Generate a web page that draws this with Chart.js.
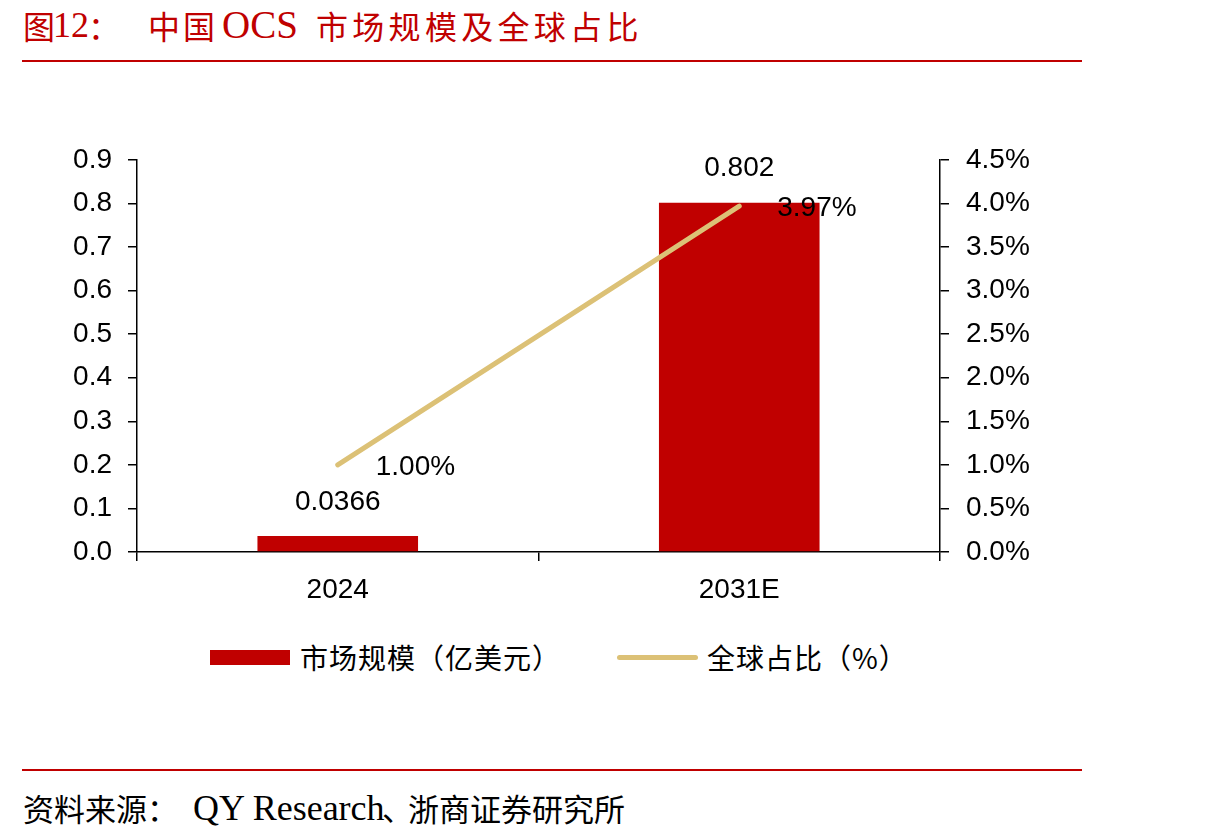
<!DOCTYPE html>
<html>
<head>
<meta charset="utf-8">
<script src="https://cdn.jsdelivr.net/npm/chart.js@4"></script>
<style>
  html, body { margin: 0; padding: 0; background: #fff; }
  body { width: 1210px; height: 838px; position: relative; overflow: hidden; }
  .t { position: absolute; top: 5px; height: 40px; line-height: 40px; color: #c00000; white-space: nowrap; }
  .cjk { font-family: "Noto Sans CJK SC", sans-serif; }
  .lat { font-family: "Liberation Serif", "Times New Roman", serif; }
  .rule { position: absolute; left: 22px; width: 1060px; height: 2px; background: #c00000; }
  .s { position: absolute; top: 788px; height: 40px; line-height: 40px; color: #000; white-space: nowrap; }
  #chartBox { position: absolute; left: 0; top: 0; width: 1210px; height: 620px; }
  .lg { position: absolute; font-family: "Noto Sans CJK SC", sans-serif; font-size: 28px; letter-spacing: 1px; line-height: 34px; color: #000; white-space: nowrap; }
  .lgBar { position: absolute; left: 210px; top: 650px; width: 80px; height: 15px; background: #c00000; }
  .lgLine { position: absolute; left: 617px; top: 655px; width: 81px; height: 5px; border-radius: 3px; background: #dcc176; }
</style>
</head>
<body>
<div class="t cjk" style="left:23px; font-size:32px">图</div>
<div class="t lat" style="left:53px; font-size:36px">12</div>
<div class="t cjk" style="left:88px; font-size:32px">：</div>
<div class="t cjk" style="left:148px; font-size:32px; letter-spacing:3px">中国</div>
<div class="t lat" style="left:222px; font-size:39px">OCS</div>
<div class="t cjk" style="left:316px; font-size:32px; letter-spacing:4.3px">市场规模及全球占比</div>
<div class="rule" style="top:60px"></div>

<div id="chartBox"><canvas id="ocsChart" width="1210" height="620"></canvas></div>

<div class="lgBar"></div>
<div class="lg" style="left:300px; top:640px">市场规模（亿美元）</div>
<div class="lgLine"></div>
<div class="lg" style="left:707px; top:640px">全球占比（%）</div>

<div class="rule" style="top:769px"></div>
<div class="s cjk" style="left:23px; font-size:31px">资料来源：</div>
<div class="s lat" style="left:193px; font-size:36px">QY Research</div>
<div class="s cjk" style="left:382px; font-size:31px">、</div>
<div class="s cjk" style="left:408px; font-size:31px">浙商证券研究所</div>

<script>
  const categories = ["2024", "2031E"];
  const marketSize = [0.0366, 0.802];      // 亿美元
  const globalShare = [1.00, 3.97];        // %
  const leftTicks = { min: 0, max: 0.9, step: 0.1 };
  const rightTicks = { min: 0, max: 4.5, step: 0.5 };

  const numFont = { family: "'Liberation Sans', Arial, sans-serif", size: 28 };

  // draw value labels next to bars / points
  const valueLabels = {
    id: "valueLabels",
    afterDatasetsDraw(chart) {
      const ctx = chart.ctx;
      ctx.save();
      ctx.font = "28px 'Liberation Sans', Arial, sans-serif";
      ctx.fillStyle = "#000";
      ctx.textBaseline = "middle";
      const barMeta = chart.getDatasetMeta(1);
      barMeta.data.forEach((el, i) => {
        ctx.textAlign = "center";
        ctx.fillText(String(marketSize[i]), el.x, el.y - 34);
      });
      const lineMeta = chart.getDatasetMeta(0);
      lineMeta.data.forEach((el, i) => {
        ctx.textAlign = "left";
        ctx.fillText(globalShare[i].toFixed(2) + "%", el.x + 38, el.y + 2);
      });
      ctx.restore();
    }
  };

  const ctx = document.getElementById("ocsChart").getContext("2d");
  new Chart(ctx, {
    data: {
      labels: categories,
      datasets: [
        {
          type: "line",
          label: "全球占比（%）",
          data: globalShare,
          yAxisID: "yR",
          borderColor: "#dcc176",
          borderWidth: 5,
          borderCapStyle: "round",
          pointRadius: 0,
          tension: 0,
          order: 0
        },
        {
          type: "bar",
          label: "市场规模（亿美元）",
          data: marketSize,
          yAxisID: "yL",
          backgroundColor: "#c00000",
          categoryPercentage: 1,
          barPercentage: 0.4,
          order: 1
        }
      ]
    },
    options: {
      responsive: false,
      animation: false,
      layout: { padding: { top: 160, left: 0, right: 0, bottom: 0 } },
      plugins: { legend: { display: false }, tooltip: { enabled: false } },
      scales: {
        x: {
          grid: { drawOnChartArea: false, drawTicks: true, tickLength: 9, color: "#000", lineWidth: 1.5, offset: true },
          border: { color: "#000", width: 1.5 },
          ticks: { color: "#000", font: numFont, padding: 12 },
          afterFit(s) { s.height = 68; }
        },
        yL: {
          position: "left",
          min: leftTicks.min, max: leftTicks.max,
          grid: { drawOnChartArea: false, drawTicks: true, tickLength: 9, color: "#000", lineWidth: 1.5 },
          border: { color: "#000", width: 1.5 },
          ticks: { stepSize: leftTicks.step, color: "#000", font: numFont, padding: 16, callback: v => v.toFixed(1) },
          afterFit(s) { s.width = 137; }
        },
        yR: {
          position: "right",
          min: rightTicks.min, max: rightTicks.max,
          grid: { drawOnChartArea: false, drawTicks: true, tickLength: 9, color: "#000", lineWidth: 1.5 },
          border: { color: "#000", width: 1.5 },
          ticks: { stepSize: rightTicks.step, color: "#000", font: numFont, padding: 17, callback: v => v.toFixed(1) + "%" },
          afterFit(s) { s.width = 270; }
        }
      }
    },
    plugins: [valueLabels]
  });
</script>
</body>
</html>
